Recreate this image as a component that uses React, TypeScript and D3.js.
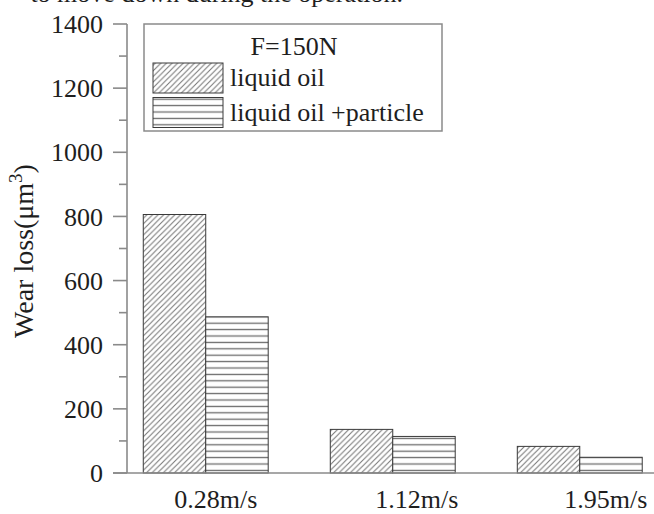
import React from "react";
import * as d3 from "d3";

// Wear loss at F=150N for three sliding speeds
const speeds = ["0.28m/s", "1.12m/s", "1.95m/s"];
const seriesNames = ["liquid oil", "liquid oil +particle"];
const liquidOil = [806, 136, 83];
const liquidOilParticle = [487, 114, 49];
const yTicks = [0, 200, 400, 600, 800, 1000, 1200, 1400];
const yMinorTicks = [100, 300, 500, 700, 900, 1100, 1300];
const legendTitle = "F=150N";
const captionTail = "to move down during the operation.";

const W = 654;
const H = 514;
const FONT = "'Liberation Serif', 'Times New Roman', serif";
const AXIS = "#8a8a8a";
const INK = "#1e1e1e";

export default function App() {
  const y = d3.scaleLinear().domain([0, 1400]).range([473, 24]);
  const x = d3
    .scaleBand<string>()
    .domain(speeds)
    .range([127, 658.5])
    .paddingInner(0.332)
    .paddingOuter(0.087);
  const xs = d3
    .scaleBand<string>()
    .domain(seriesNames)
    .range([0, x.bandwidth()]);

  const series = [liquidOil, liquidOilParticle];
  const fills = ["url(#diag)", "url(#horiz)"];
  const labelShift = [10, 24, 26];

  return (
    <svg
      width={W}
      height={H}
      style={{ position: "absolute", left: 0, top: 0, background: "#fff" }}
      fontFamily={FONT}
    >
      <defs>
        <pattern id="diag" patternUnits="userSpaceOnUse" width={5.6} height={5.6}>
          <rect width={5.6} height={5.6} fill="#fff" />
          <path d="M-1.4,1.4 L1.4,-1.4 M0,5.6 L5.6,0 M4.2,7 L7,4.2" stroke="#747474" strokeWidth={1} />
        </pattern>
        <pattern id="horiz" patternUnits="userSpaceOnUse" width={8} height={6.4}>
          <rect width={8} height={6.4} fill="#fff" />
          <line x1={0} x2={8} y1={3.2} y2={3.2} stroke="#6a6a6a" strokeWidth={1.3} />
        </pattern>
      </defs>

      {/* partially visible caption line above the chart */}
      <text x={403} y={2} fontSize={26} textAnchor="end" fill={INK}>
        {captionTail}
      </text>

      {/* bars */}
      {speeds.map((s, i) => (
        <g key={s} transform={`translate(${x(s)},0)`}>
          {seriesNames.map((n, k) => (
            <rect
              key={n}
              x={xs(n)}
              y={y(series[k][i])}
              width={xs.bandwidth()}
              height={y(0) - y(series[k][i])}
              fill={fills[k]}
              stroke="#3a3a3a"
              strokeWidth={1}
            />
          ))}
        </g>
      ))}

      {/* y axis */}
      <line x1={127} x2={127} y1={y(1400)} y2={y(0)} stroke={AXIS} strokeWidth={1.6} />
      {yTicks.map((t) => (
        <g key={t}>
          <line x1={113} x2={127} y1={y(t)} y2={y(t)} stroke={AXIS} strokeWidth={1.6} />
          <text x={103} y={y(t)} dy="0.35em" fontSize={26} textAnchor="end" fill={INK}>
            {t}
          </text>
        </g>
      ))}
      {yMinorTicks.map((t) => (
        <line key={t} x1={119} x2={127} y1={y(t)} y2={y(t)} stroke={AXIS} strokeWidth={1.6} />
      ))}

      {/* x axis */}
      <line x1={113} x2={W} y1={y(0)} y2={y(0)} stroke={AXIS} strokeWidth={1.6} />
      {speeds.map((s, i) => (
        <text
          key={s}
          x={(x(s) as number) + x.bandwidth() / 2 + labelShift[i]}
          y={508}
          fontSize={26}
          textAnchor="middle"
          fill={INK}
        >
          {s}
        </text>
      ))}

      {/* y axis title */}
      <text
        transform="translate(33,251) rotate(-90)"
        fontSize={28}
        textAnchor="middle"
        fill={INK}
      >
        Wear loss(μm
        <tspan dy={-11} fontSize={19}>3</tspan>
        <tspan dy={11}>)</tspan>
      </text>

      {/* legend */}
      <g>
        <rect x={144} y={24} width={298} height={107} fill="#fff" stroke={AXIS} strokeWidth={1.5} />
        <text x={294} y={55} fontSize={26} textAnchor="middle" fill={INK}>
          {legendTitle}
        </text>
        {seriesNames.map((n, k) => (
          <g key={n}>
            <rect
              x={153}
              y={63 + k * 34.5}
              width={70}
              height={30}
              fill={fills[k]}
              stroke="#3a3a3a"
              strokeWidth={1}
            />
            <text x={230} y={86 + k * 34.5} fontSize={26} fill={INK}>
              {n}
            </text>
          </g>
        ))}
      </g>
    </svg>
  );
}
